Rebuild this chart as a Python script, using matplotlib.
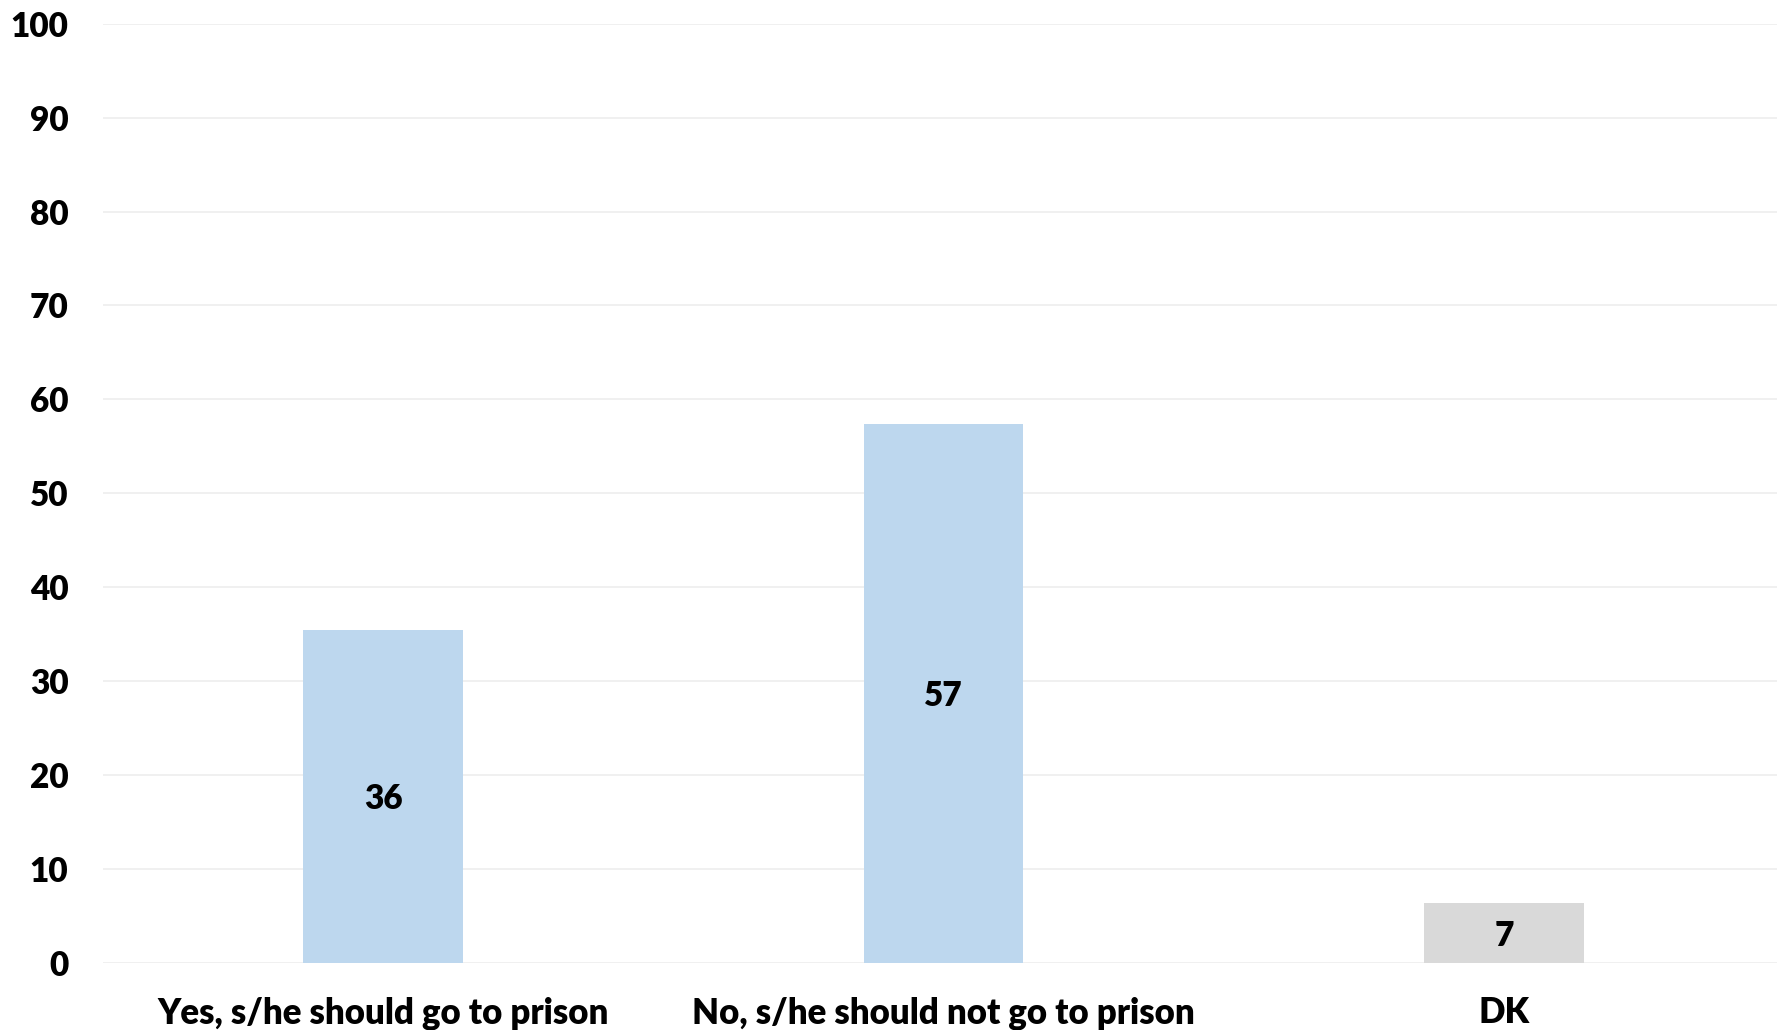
import matplotlib
matplotlib.use("Agg")
import matplotlib.pyplot as plt

categories = ["Yes, s/he should go to prison", "No, s/he should not go to prison", "DK"]
values = [35.5, 57.4, 6.4]
labels = ["36", "57", "7"]
colors = ["#BDD7EE", "#BDD7EE", "#D9D9D9"]
yticks = [0, 10, 20, 30, 40, 50, 60, 70, 80, 90, 100]

plt.rcParams['font.family'] = ['Lato', 'DejaVu Sans']
plt.rcParams['font.weight'] = 'bold'

fig = plt.figure(figsize=(17.77, 10.30), dpi=100)
ax = fig.add_axes([0.058, 0.065, 0.946, 0.912])

x = list(range(len(categories)))
bars = ax.bar(x, values, width=0.285, color=colors, zorder=2)

# value labels sit in the middle of each bar
for i, b in enumerate(bars):
    ax.text(b.get_x() + b.get_width() / 2, values[i] / 2, labels[i],
            ha="center", va="center_baseline", fontsize=24, fontweight="heavy", zorder=3)

ax.set_xlim(-0.5, 2.5)
ax.set_ylim(0, 100)
ax.set_yticks(yticks)
ax.set_xticks(x)
ax.set_xticklabels(categories, fontsize=25, fontweight="heavy")
ax.set_yticklabels([str(t) for t in yticks], fontsize=24, fontweight="heavy")
ax.tick_params(axis="y", length=0, pad=25)
ax.tick_params(axis="x", length=0, pad=24)
ax.yaxis.grid(True, color="#EEEEEE", linewidth=1.2, zorder=0)
ax.set_axisbelow(True)
for s in ax.spines.values():
    s.set_visible(False)

fig.savefig("out.png", dpi=100)
